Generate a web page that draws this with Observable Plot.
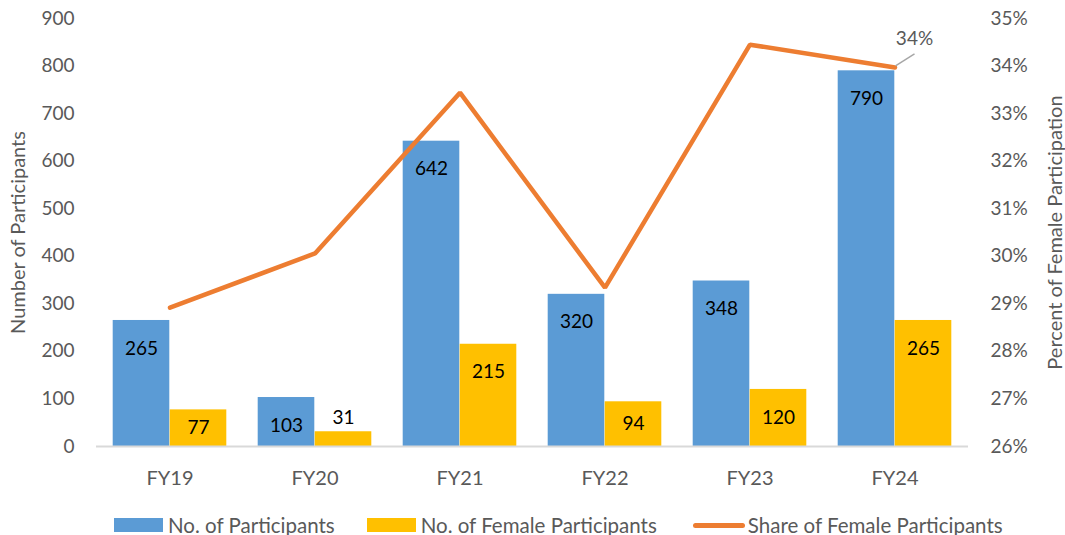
<!DOCTYPE html>
<html>
<head>
<meta charset="utf-8">
<script src="https://cdn.jsdelivr.net/npm/d3@7"></script>
<script src="https://cdn.jsdelivr.net/npm/@observablehq/plot@0.6"></script>
<style>
  html, body { margin: 0; padding: 0; background: #fff; }
  #chart { width: 1065px; }
  .legend { display: flex; align-items: center; margin-left: 114px; margin-top: 13px;
            font-family: Lato, "Open Sans", sans-serif; font-size: 20.5px; color: #595959; }
  .legend .item { display: flex; align-items: center; margin-right: 32px; }
  .legend .item.i2 { margin-right: 36px; }
  .legend .sw { width: 49px; height: 14px; margin-right: 5px; }
  .legend .ln { width: 52px; height: 5px; border-radius: 3px; margin-right: 3px; }
</style>
</head>
<body>
<div id="chart"></div>
<script>
const categories = ["FY19", "FY20", "FY21", "FY22", "FY23", "FY24"];
const participants = [265, 103, 642, 320, 348, 790];
const femaleParticipants = [77, 31, 215, 94, 120, 265];
const femaleSharePct = [28.92, 30.06, 33.44, 29.34, 34.45, 33.97];
const leftTicks = [0, 100, 200, 300, 400, 500, 600, 700, 800, 900];
const rightTickPct = [26, 27, 28, 29, 30, 31, 32, 33, 34, 35];
const shareLabel = "34%";

const BLUE = "#5B9BD5", YELLOW = "#FFC000", ORANGE = "#ED7D31", GREY = "#595959";
const pctMin = 26, pctMax = 35, countMax = 900;
const pctToY = p => (p - pctMin) / (pctMax - pctMin) * countMax;
const yToPct = v => pctMin + v / countMax * (pctMax - pctMin);

const rows = categories.map((c, i) => ({
  cat: c, total: participants[i], female: femaleParticipants[i],
  share: pctToY(femaleSharePct[i])
}));

const labels = [];
rows.forEach(r => {
  labels.push({cat: r.cat, v: r.total, side: "L"});
  labels.push({cat: r.cat, v: r.female, side: "R"});
});
const bigL = labels.filter(d => d.v >= 100);
const midL = labels.filter(d => d.v >= 50 && d.v < 100);
const smallL = labels.filter(d => d.v < 50);

const half = 28.5;
const font = "Lato, 'Open Sans', sans-serif";

const labelMarks = (data, yFn, dy) => [
  Plot.text(data.filter(d => d.side === "L"), {x: "cat", y: yFn, text: d => String(d.v), dx: -half, dy, fill: "#000", fontSize: 19}),
  Plot.text(data.filter(d => d.side === "R"), {x: "cat", y: yFn, text: d => String(d.v), dx: half, dy, fill: "#000", fontSize: 19})
];

const last = rows[rows.length - 1];

const chart = Plot.plot({
  width: 1065,
  height: 500,
  marginLeft: 96,
  marginRight: 97,
  marginTop: 18,
  marginBottom: 54,
  x: {domain: categories, padding: 0, label: null},
  y: {domain: [0, countMax], label: null},
  style: {fontFamily: font, fontSize: "19px", color: GREY, background: "#fff"},
  marks: [
    Plot.axisY({ticks: leftTicks, tickSize: 0, tickPadding: 22, label: null, fontSize: 19, fill: GREY}),
    Plot.axisY({anchor: "right", ticks: rightTickPct.map(pctToY), tickSize: 0, tickPadding: 22,
      tickFormat: d => `${Math.round(yToPct(d))}%`, label: null, fontSize: 19, fill: GREY}),
    Plot.axisX({tickSize: 0, tickPadding: 24, label: null, fontSize: 20, fill: GREY}),
    Plot.text(["Number of Participants"], {frameAnchor: "left", textAnchor: "middle", dx: -78, rotate: -90, text: d => d, fontSize: 20, fill: GREY}),
    Plot.text(["Percent of Female Participation"], {frameAnchor: "right", textAnchor: "middle", dx: 87, rotate: -90, text: d => d, fontSize: 20, fill: GREY}),
    Plot.barY(rows, {x: "cat", y: "total", fill: BLUE, insetLeft: 15.7, insetRight: 72.7}),
    Plot.barY(rows, {x: "cat", y: "female", fill: YELLOW, insetLeft: 72.7, insetRight: 15.7}),
    Plot.ruleY([0], {stroke: "#d9d9d9", strokeWidth: 2}),
    ...labelMarks(bigL, d => d.v, 28),
    ...labelMarks(midL, d => d.v / 2, 0),
    ...labelMarks(smallL, d => d.v, -14),
    Plot.line(rows, {x: "cat", y: "share", stroke: ORANGE, strokeWidth: 4.5, strokeLinejoin: "miter", strokeLinecap: "round"}),
    (index, scales) => {
      const sx = scales.x;
      const bw = typeof sx.bandwidth === "function" ? sx.bandwidth() : (sx.bandwidth || 0);
      const x0 = sx(last.cat) + bw / 2;
      const y0 = scales.y(last.share);
      const g = d3.create("svg:g");
      g.append("line").attr("x1", x0 + 1).attr("y1", y0 - 1).attr("x2", x0 + 20).attr("y2", y0 - 13)
        .attr("stroke", "#a6a6a6").attr("stroke-width", 1.5);
      g.append("text").attr("x", x0 + 20).attr("y", y0 - 29).attr("dy", "0.35em")
        .attr("text-anchor", "middle").attr("fill", GREY).attr("font-size", 19)
        .attr("font-family", font).text(shareLabel);
      return g.node();
    }
  ]
});
document.getElementById("chart").appendChild(chart);

const legend = document.createElement("div");
legend.className = "legend";
legend.innerHTML = `
  <div class="item"><div class="sw" style="background:${BLUE}"></div><span>No. of Participants</span></div>
  <div class="item i2"><div class="sw" style="background:${YELLOW}"></div><span>No. of Female Participants</span></div>
  <div class="item"><div class="ln" style="background:${ORANGE}"></div><span>Share of Female Participants</span></div>`;
document.getElementById("chart").appendChild(legend);
</script>
</body>
</html>
